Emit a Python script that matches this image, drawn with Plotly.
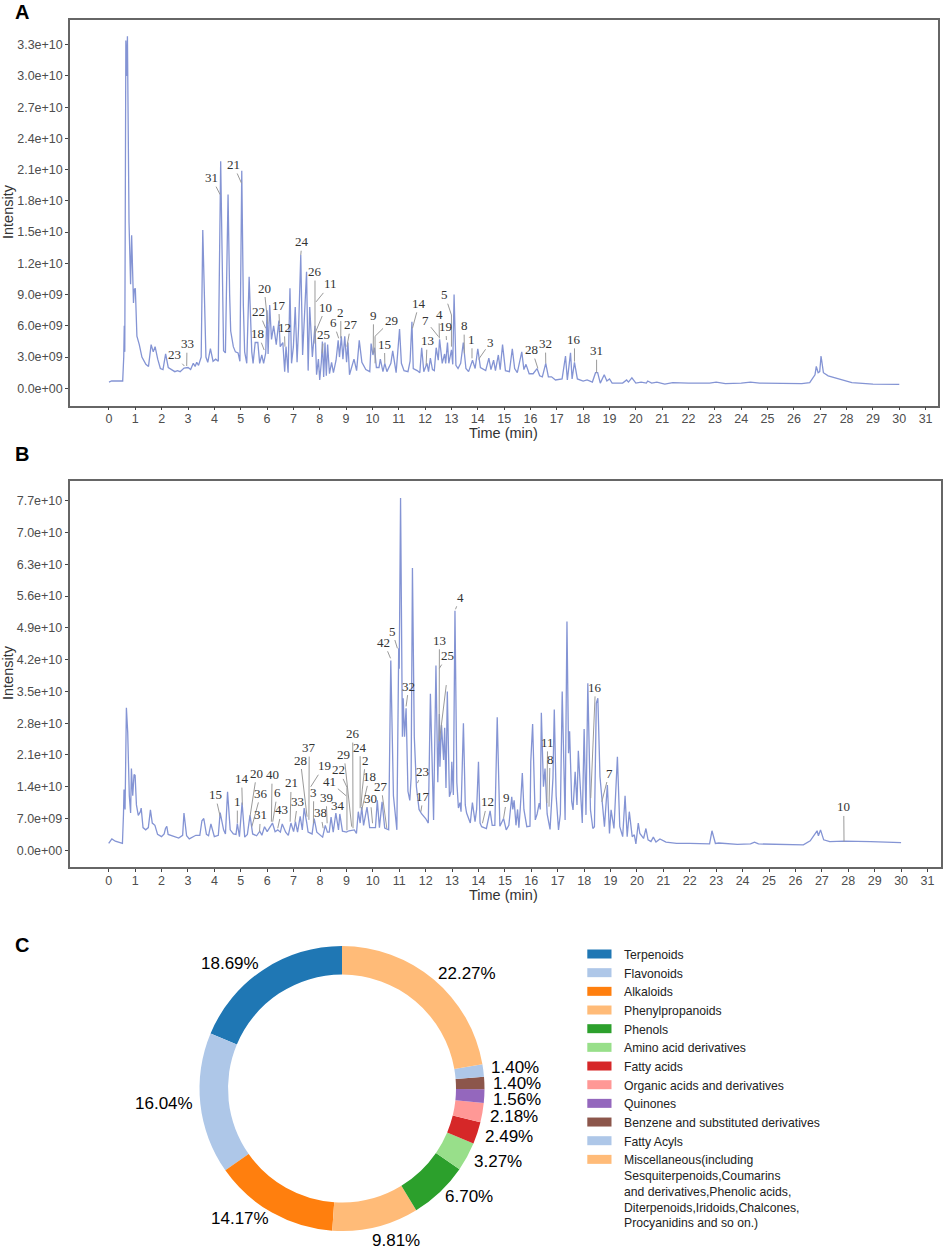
import plotly.graph_objects as go

W = 948
H = 1248
LINE_COLOR = "#8494d4"
LEADER_COLOR = "#9a9a9a"
AXIS_COLOR = "#666666"
TICK_TEXT = "#4d4d4d"

# intensities are in units of 1e9
A_TIME = [0, .1, .3, .52, .56, .58, .6, .64, .67, .7, .76, .82, .86, .9, .93, .96, 1.0, 1.06, 1.15, 1.25, 1.4, 1.5,
          1.6, 1.68, 1.75, 1.85, 1.95, 2.05, 2.15, 2.25, 2.4, 2.5, 2.6, 2.7, 2.85, 3.0, 3.1, 3.2, 3.27, 3.33, 3.4,
          3.5, 3.56, 3.63, 3.68, 3.75, 3.85, 3.95, 4.05, 4.15, 4.24, 4.3, 4.35, 4.42, 4.52, 4.58, 4.62, 4.72, 4.8,
          4.9, 4.97, 5.04, 5.1, 5.15, 5.23, 5.32, 5.42, 5.47, 5.55, 5.65, 5.72, 5.8, 5.87, 5.95, 6.0, 6.04, 6.1,
          6.17, 6.25, 6.35, 6.45, 6.5, 6.6, 6.67, 6.72, 6.8, 6.87, 6.93, 7.0, 7.07, 7.14, 7.2, 7.28, 7.35, 7.45,
          7.5, 7.56, 7.62, 7.72, 7.82, 7.88, 7.95, 8.0, 8.06, 8.1, 8.15, 8.2, 8.25, 8.3, 8.37, 8.45, 8.52, 8.62,
          8.7, 8.75, 8.82, 8.88, 8.95, 9.02, 9.07, 9.13, 9.3, 9.4, 9.5, 9.6, 9.75, 9.9, 9.95, 10.02, 10.08, 10.15,
          10.25, 10.3, 10.4, 10.47, 10.55, 10.7, 10.77, 10.9, 11.03, 11.1, 11.2, 11.35, 11.43, 11.5, 11.55, 11.7,
          11.8, 11.87, 11.95, 12.07, 12.13, 12.2, 12.28, 12.35, 12.42, 12.5, 12.55, 12.65, 12.74, 12.78, 12.85,
          12.9, 13.0, 13.05, 13.1, 13.17, 13.25, 13.35, 13.45, 13.55, 13.65, 13.8, 13.9, 14.0, 14.1, 14.3, 14.42,
          14.5, 14.6, 14.67, 14.78, 14.85, 14.94, 15.05, 15.2, 15.31, 15.4, 15.5, 15.67, 15.75, 15.83, 15.95, 16.1,
          16.25, 16.35, 16.45, 16.58, 16.68, 16.8, 16.95, 17.2, 17.33, 17.4, 17.52, 17.58, 17.67, 17.78, 18.0,
          18.15, 18.35, 18.47, 18.55, 18.65, 18.8, 18.9, 19.0, 19.1, 19.5, 19.65, 19.72, 19.85, 20.0, 20.2, 20.4,
          20.45, 20.6, 20.8, 21.1, 21.4, 22, 22.8, 23.05, 23.4, 24.0, 24.35, 24.7, 25.5, 26.3, 26.6, 26.8, 26.85,
          26.92, 26.98, 27.03, 27.12, 27.3, 27.7, 28.2, 29, 30]
A_INT = [.6, .7, .7, .7, 3.0, 6.0, 3.5, 33.4, 30, 33.8, 16, 10, 14.7, 11, 8.2, 9.5, 9.6, 5, 4.2, 3, 2.3, 2.1,
         4.2, 3.5, 4.0, 2.8, 1.9, 1.8, 3.3, 2.0, 1.8, 1.6, 1.7, 1.6, 1.95, 2.0, 1.8, 2.4, 2.1, 2.5, 2.2,
         3.0, 15.2, 7, 3, 2.5, 3.8, 2.6, 2.8, 2.6, 21.8, 12, 3.6, 3.4, 18.6, 9, 5.5, 4, 3.5,
         3.4, 2.6, 20.9, 8, 3.5, 2.4, 10.7, 3.5, 2.4, 4.4, 4.4, 2.4, 3.2, 2.4, 3.4, 7.5, 3.3, 8.0,
         4.7, 6.0, 4.2, 6.5, 4, 4.4, 1.6, 4, 1.5, 9.6, 2.4, 4, 7.8, 2.5, 6, 12.8, 3.2, 8.5,
         11.2, 1.7, 7.8, 3, 6, 1.3, 2.8, .8, 2.5, 4.5, 1.1, 4.4, 1.2, 4.2, 1.4, 2.5, 1.5, 2.7,
         4.6, 3, 5, 2.8, 5, 2.5, 4.4, 1.3, 2.8, 1.7, 4.6, 2.5, 1.8, 1.6, 4.3, 3.2, 3.9, 2,
         2, 2.8, 1.6, 2.4, 1.6, 2.4, 3.6, 1.5, 5.7, 2.4, 1.7, 1.6, 2.6, 6.4, 1.9, 1.7,
         1.5, 3.9, 1.6, 2.4, 1.6, 2.9, 1.8, 1.7, 3.9, 2.7, 4.7, 2.4, 3.3, 2.4, 4.4,
         2.4, 3.7, 2.3, 9.0, 2.2, 1.9, 2.4, 4.4, 1.9, 1.6, 2.7, 1.9, 3.8, 2, 1.7, 2.9,
         1.8, 2.7, 1.7, 3.2, 1.8, 4.2, 1.7, 1.6, 3.8, 1.9, 1.5, 3.5, 1.8, 2.3, 1.4, 1.4,
         1.9, 1.2, 1.1, 2.4, 1.1, 1.1, .8, .9, 3.1, .8, 3.4, .9, 2.5, .9, .7,
         .8, .6, 1.5, 1.5, .5, 1.3, .7, .9, .5, .5, .8, .6, 1.0, .5, .6, .5,
         .7, .5, .6, .4, .55, .5, .5, .6, .45, .5, .6, .5, .45, .45, .55, 1.3, 2.1,
         1.5, 1.6, 3.1, 1.5, 1.2, .9, .55, .4, .37]

B_TIME = [0, .12, .25, .45, .52, .56, .58, .62, .67, .72, .78, .83, .86, .91, .96, 1.0, 1.05, 1.12, 1.2, 1.23, 1.3,
          1.4, 1.5, 1.58, 1.65, 1.75, 1.85, 2.0, 2.1, 2.15, 2.2, 2.25, 2.5, 2.65, 2.8, 2.85, 2.95, 3.05, 3.3, 3.45,
          3.53, 3.6, 3.7, 3.78, 3.87, 4.0, 4.15, 4.22, 4.35, 4.42, 4.5, 4.6, 4.72, 4.82, 4.87, 4.95, 5.05, 5.15,
          5.25, 5.35, 5.45, 5.6, 5.72, 5.8, 5.9, 6, 6.2, 6.3, 6.4, 6.5, 6.57, 6.7, 6.8, 6.9, 7.0, 7.07, 7.15, 7.25,
          7.33, 7.4, 7.5, 7.55, 7.7, 7.78, 7.88, 8.0, 8.1, 8.2, 8.28, 8.35, 8.42, 8.5, 8.6, 8.7, 8.75, 8.85, 9, 9.1,
          9.3, 9.38, 9.45, 9.52, 9.58, 9.65, 9.78, 9.88, 10, 10.1, 10.17, 10.25, 10.35, 10.45, 10.6, 10.68, 10.78,
          10.87, 10.91, 10.98, 11.0, 11.05, 11.12, 11.15, 11.2, 11.26, 11.33, 11.4, 11.45, 11.5, 11.57, 11.65, 11.75,
          11.85, 12.0, 12.1, 12.18, 12.3, 12.39, 12.46, 12.52, 12.54, 12.6, 12.68, 12.72, 12.77, 12.82, 12.9, 12.96,
          12.99, 13.05, 13.11, 13.18, 13.24, 13.3, 13.34, 13.43, 13.5, 13.55, 13.69, 13.77, 13.87, 13.93, 14.0, 14.06,
          14.12, 14.3, 14.44, 14.52, 14.62, 14.71, 14.81, 14.95, 15.05, 15.15, 15.26, 15.3, 15.35, 15.42, 15.48, 15.53,
          15.58, 15.66, 15.72, 15.83, 15.95, 15.98, 16.05, 16.15, 16.22, 16.3, 16.34, 16.38, 16.46, 16.52, 16.6, 16.71,
          16.82, 16.87, 16.94, 17.03, 17.1, 17.17, 17.28, 17.35, 17.41, 17.45, 17.53, 17.58, 17.66, 17.73, 17.78,
          17.93, 18.0, 18.07, 18.14, 18.24, 18.33, 18.39, 18.46, 18.52, 18.6, 18.69, 18.77, 18.88, 18.96, 19.02, 19.13,
          19.26, 19.35, 19.46, 19.55, 19.63, 19.71, 19.82, 19.9, 19.96, 20.05, 20.11, 20.25, 20.34, 20.42, 20.53,
          20.62, 20.72, 20.87, 21.1, 21.5, 22, 22.53, 22.75, 22.84, 22.97, 23.1, 23.8, 24.3, 24.45, 24.6, 26.3, 26.56,
          26.82, 26.87, 26.95, 27.07, 27.3, 27.84, 28.5, 28.85, 30]
B_INT = [1.5, 2.5, 2, 1.6, 1.5, 8, 13.4, 9, 31.4, 26, 12, 8.2, 18, 12, 16.7, 16.5, 10, 7.7, 8.5, 9.3, 5,
         4.5, 5, 8.9, 6, 5.5, 3.5, 3, 3.6, 4.8, 5.3, 3.5, 3, 2.7, 3.3, 8.2, 3.2, 2.5, 3.3, 3.3,
         6.5, 7, 3.5, 3.2, 5.8, 3, 3.3, 8.3, 4.5, 3.6, 12.9, 4.5, 3.6, 3.5, 5.9, 3, 10.5, 2.9,
         3.5, 7.7, 3.6, 3.2, 4.2, 3.3, 5.2, 4.1, 6, 4.1, 4.5, 4, 5.8, 4, 3.3, 6, 4.1, 6.3, 4, 7.5,
         4.5, 9.3, 6, 4, 3.6, 7, 4, 3.5, 2.9, 5.5, 4, 4, 7.3, 4, 8.2, 4.5, 8, 4.2, 4, 4.3,
         4.5, 3.7, 8.5, 6, 9.5, 5.5, 9.5, 5, 5, 5, 11, 5, 10.7, 4.9, 4.5, 41.8, 12,
         5.5, 4.5, 44.5, 40, 77.6, 25, 33.5, 25, 31.3, 13, 11, 16, 62.2, 25, 14, 9,
         8, 7, 6, 34.5, 6.7, 40.7, 15, 30, 18.4, 27.6, 19.9, 27, 13.7, 35, 11.8, 13,
         19.5, 12.2, 52.8, 15, 9.3, 10.5, 8.5, 28, 10, 8.2, 6, 10.5, 6.3, 9, 19.5, 6,
         5.2, 4.8, 8.7, 5.5, 5.5, 29.3, 5.3, 7, 4.5, 5.5, 11.8, 9, 11, 5.5, 9, 5,
         9, 17, 9, 5.2, 5.3, 19.5, 27.8, 6.7, 8, 10.4, 9, 30.3, 14, 18, 8, 4.6,
         15.9, 31, 12, 4.5, 8, 35, 6.7, 50.4, 21.4, 26.2, 10.7, 8.9, 17.3, 10, 21.9,
         6, 26.7, 7.8, 36.8, 8.9, 4.8, 5.2, 32.4, 33.5, 16.2, 9.6, 5.2, 14.4, 3.7, 8.9, 4.8,
         20.6, 5.2, 3, 12, 3, 8.5, 3, 3.4, 1.4, 6, 3.7, 2.6, 4.8, 2.3, 1.9,
         2.9, 1.8, 2.5, 1.8, 1.5, 1.5, 1.4, 1.4, 4.3, 1.5, 1.6, 1.3, 1.4, 1.8, 1.4, 1.2, 2.1,
         4.3, 3.2, 4.5, 2.3, 1.9, 2, 2, 1.9, 1.7]

# peak labels: text, time, intensity
A_PEAKS = [("31", 4.22, 18.6), ("21", 5.03, 19.7), ("23", 2.86, 2.14), ("33", 2.95, 2.14), ("24", 7.28, 12.8),
           ("26", 7.82, 4.3), ("11", 7.86, 8.3), ("20", 6.03, 6.2), ("22", 5.95, 5.76), ("17", 6.47, 6.24),
           ("12", 6.68, 4.0), ("18", 5.89, 3.68), ("10", 7.82, 5.28), ("25", 8.09, 3.36), ("2", 8.8, 4.8),
           ("6", 8.72, 4.8), ("27", 9.03, 4.0), ("9", 10.03, 3.36), ("29", 10.1, 5.0), ("15", 10.47, 2.4),
           ("14", 11.52, 5.76), ("13", 12.04, 2.24), ("7", 12.51, 4.96), ("4", 12.54, 4.8), ("19", 12.81, 4.64),
           ("5", 13.0, 7.04), ("8", 13.49, 3.36), ("1", 13.78, 2.88), ("3", 14.03, 2.78), ("28", 16.28, 1.92),
           ("32", 16.58, 2.4), ("16", 17.67, 2.56), ("31", 18.51, 1.5)]
B_PEAKS = [("15", 4.22, 7.42), ("1", 4.87, 5.95), ("14", 5.06, 10.0), ("20", 5.35, 7.42), ("36", 5.42, 5.2),
           ("31", 5.71, 4.1), ("40", 6.16, 6.3), ("6", 6.21, 6.3), ("43", 6.4, 4.85), ("21", 6.87, 6.3),
           ("33", 7.05, 6.3), ("28", 7.51, 7.4), ("37", 7.58, 6.7), ("19", 7.65, 14.0), ("3", 7.75, 5.95),
           ("38", 8.12, 4.85), ("39", 8.27, 5.95), ("34", 8.64, 7.8), ("41", 8.99, 12.0), ("22", 9.02, 13.9),
           ("29", 9.2, 5.2), ("26", 9.25, 4.85), ("24", 9.52, 9.26), ("2", 9.6, 13.3), ("18", 9.58, 8.9),
           ("30", 9.99, 5.95), ("27", 10.53, 4.85), ("42", 10.67, 42.3), ("5", 10.93, 44.5), ("32", 11.26, 31.7),
           ("13", 12.51, 24.3), ("25", 12.52, 40.1), ("23", 11.69, 14.8), ("17", 11.82, 8.5), ("4", 13.13, 53.1),
           ("12", 14.15, 5.95), ("9", 14.95, 7.05), ("11", 16.59, 10.4), ("8", 16.67, 9.6), ("16", 18.25, 11.5),
           ("7", 18.67, 10.7), ("10", 27.84, 1.9)]

# label offset from the peak, in pixels
A_OFFSETS = [(-8.7, -17), (-8.3, -18.7), (-10, -11.3), (.3, -22.3), (1.3, -13.3), (0, -72), (14.7, -18), (-3.7, -35.7),
             (-7, -16.7), (-.7, -18.3), (-.7, -19.3), (-6.3, -16.3), (11, -26.3), (1.7, -18.7), (0, -26.3),
             (-5.3, -15.7), (4, -22), (.3, -38), (16, -15.7), (-.3, -19.3), (6.7, -25), (1, -24.3), (-12.7, -15.7),
             (-.3, -24), (-.7, -13), (-6.7, -20.3), (-.3, -27.7), (0, -19), (12, -17.3), (-6, -18.7), (-.3, -19.7),
             (0, -22.3), (0, -22)]
B_OFFSETS = [(-5, -22), (0, -21.7), (-.7, -26.3), (6.7, -43.3), (9, -33.3), (1, -16.7), (.7, -47), (4.7, -29),
             (4, -18.3), (1, -38.7), (2.7, -19.7), (-6.7, -56.7), (.3, -72.3), (13.3, -21), (.3, -31), (-2.7, -15.3),
             (-1, -26), (1.3, -9), (-16.3, -14), (-8, -17.3), (-7.7, -72.3), (-.3, -94.7), (0, -61), (3.3, -29.7),
             (7.7, -33), (-2.3, -25), (-5.7, -42), (-6.7, -16), (-5.3, -17.3), (2.7, -20.3), (.3, -99.7), (8, -12.7),
             (5, -12), (2.3, -15.3), (4.7, -12), (5, -21.3), (3.3, -20.3), (.7, -60.7), (1, -47.7), (4.7, -110.7),
             (7.3, -28.7), (-.3, -34.7)]

# second part of the bent leader lines: t0, y0, t1, y1
A_ELBOWS = [(10.1, 5.0, 10.1, 2.4), (13.0, 7.04, 13.0, 4.0)]
B_ELBOWS = [(9.02, 13.9, 9.02, 4.4), (12.78, 36.4, 12.52, 24.0), (9.6, 13.3, 9.55, 9.6)]

X_TICKS = list(range(0, 32))
A_YTICKS = [0, 3, 6, 9, 12, 15, 18, 21, 24, 27, 30, 33]
A_YLABELS = ["0.0e+00", "3.0e+09", "6.0e+09", "9.0e+09", "1.2e+10", "1.5e+10", "1.8e+10", "2.1e+10", "2.4e+10",
             "2.7e+10", "3.0e+10", "3.3e+10"]
B_YTICKS = [0, 7, 14, 21, 28, 35, 42, 49, 56, 63, 70, 77]
B_YLABELS = ["0.0e+00", "7.0e+09", "1.4e+10", "2.1e+10", "2.8e+10", "3.5e+10", "4.2e+10", "4.9e+10", "5.6e+10",
             "6.3e+10", "7.0e+10", "7.7e+10"]

PIE_LABELS = ["Terpenoids", "Flavonoids", "Alkaloids", "Phenylpropanoids", "Phenols", "Amino acid derivatives",
              "Fatty acids", "Organic acids and derivatives", "Quinones", "Benzene and substituted derivatives",
              "Fatty Acyls",
              "Miscellaneous(including<br>Sesquiterpenoids,Coumarins<br>and derivatives,Phenolic acids,<br>"
              "Diterpenoids,Iridoids,Chalcones,<br>Procyanidins and so on.)"]
PIE_VALUES = [18.69, 16.04, 14.17, 9.81, 6.70, 3.27, 2.49, 2.18, 1.56, 1.40, 1.40, 22.27]
PIE_COLORS = ["#1f77b4", "#aec7e8", "#ff7f0e", "#ffbb78", "#2ca02c", "#98df8a", "#d62728", "#ff9896", "#9467bd",
              "#8c564b", "#aec7e8", "#ffbb78"]
# where each percentage sits on the page
PIE_TEXT_POS = [(230, 963), (164, 1103), (240, 1218), (396, 1240), (469, 1196), (498, 1161), (509, 1136), (514, 1116),
                (517, 1099), (517, 1083), (515, 1067), (467, 973)]


def px_x(x):
    return x / W


def px_y(y):
    return 1 - y / H


def text_at(x, y, text, size, family="Liberation Sans", color="#000000", xanchor="center", yanchor="middle", **kw):
    return dict(xref="paper", yref="paper", x=px_x(x), y=px_y(y), text=text, showarrow=False,
                xanchor=xanchor, yanchor=yanchor,
                font=dict(family=family, size=size, color=color), **kw)


def axis_style():
    return dict(showline=True, mirror=True, linecolor=AXIS_COLOR, linewidth=1.5, showgrid=False, zeroline=False,
                ticks="outside", ticklen=3, tickcolor="#444444", tickwidth=1,
                tickfont=dict(family="Liberation Sans", size=12.5, color=TICK_TEXT))


def add_panel(fig, row, times, values, peaks, offsets, elbows, yticks, ylabels, box, xrange, yrange):
    x0, x1, y0, y1 = box
    xname = "xaxis" if row == 1 else "xaxis2"
    yname = "yaxis" if row == 1 else "yaxis2"
    xref = "x" if row == 1 else "x2"
    yref = "y" if row == 1 else "y2"

    fig.add_trace(go.Scatter(x=times, y=values, mode="lines", xaxis=xref, yaxis=yref, showlegend=False,
                             line=dict(color=LINE_COLOR, width=1.3)))

    fig.update_layout({
        xname: dict(axis_style(), domain=[px_x(x0), px_x(x1)], range=xrange, anchor=yref, ticklabelstandoff=-2,
                    tickmode="array", tickvals=X_TICKS, ticktext=[str(t) for t in X_TICKS]),
        yname: dict(axis_style(), domain=[px_y(y1), px_y(y0)], range=yrange, anchor=xref,
                    tickmode="array", tickvals=yticks, ticktext=ylabels),
    })

    for (label, t, v), (dx, dy) in zip(peaks, offsets):
        fig.add_annotation(x=t, y=v, xref=xref, yref=yref, text=label, showarrow=True, arrowhead=0,
                           arrowcolor=LEADER_COLOR, arrowwidth=1, ax=dx, ay=dy,
                           font=dict(family="Liberation Serif", size=13, color="#333333"))

    for t0, v0, t1, v1 in elbows:
        fig.add_shape(type="line", xref=xref, yref=yref, x0=t0, y0=v0, x1=t1, y1=v1,
                      line=dict(color=LEADER_COLOR, width=1))


fig = go.Figure()

add_panel(fig, 1, A_TIME, A_INT, A_PEAKS, A_OFFSETS, A_ELBOWS, A_YTICKS, A_YLABELS,
          (70, 938, 20, 405.6), [-1.48, 31.47], [-1.66, 35.37])
add_panel(fig, 2, B_TIME, B_INT, B_PEAKS, B_OFFSETS, B_ELBOWS, B_YTICKS, B_YLABELS,
          (69.5, 940.7, 481.3, 867.3), [-1.484, 31.5], [-3.75, 81.3])

# plotly swings the first slice to the far side of 12 o'clock when going counterclockwise
fig.add_trace(go.Pie(labels=PIE_LABELS, values=PIE_VALUES, hole=0.8, sort=False, direction="counterclockwise",
                     rotation=-360 * PIE_VALUES[0] / sum(PIE_VALUES), textinfo="none", showlegend=False,
                     marker=dict(colors=PIE_COLORS, line=dict(width=0)),
                     domain=dict(x=[px_x(342 - 142.5), px_x(342 + 142.5)],
                                 y=[px_y(1088.5 + 142.5), px_y(1088.5 - 142.5)])))

for value, (x, y) in zip(PIE_VALUES, PIE_TEXT_POS):
    fig.add_annotation(text_at(x, y, f"{value:.2f}%", 17))

# legend for the donut
for i, (label, color) in enumerate(zip(PIE_LABELS, PIE_COLORS)):
    row_y = 954 + i * 18.67
    fig.add_shape(type="rect", xref="paper", yref="paper", x0=px_x(587.3), x1=px_x(611.5),
                  y0=px_y(row_y - 4.5), y1=px_y(row_y + 4.5), fillcolor=color, line=dict(width=0))
    fig.add_annotation(text_at(621.8, row_y - 8, label, 12.2, color="#222222", xanchor="left", yanchor="top",
                               align="left"))

fig.add_annotation(text_at(22, 12, "<b>A</b>", 20))
fig.add_annotation(text_at(22, 454, "<b>B</b>", 20))
fig.add_annotation(text_at(22, 945, "<b>C</b>", 20))
fig.add_annotation(text_at(504, 433, "Time (min)", 14.5, color="#333333"))
fig.add_annotation(text_at(504, 895, "Time (min)", 14.5, color="#333333"))
fig.add_annotation(text_at(8, 212, "Intensity", 14.5, color="#333333", textangle=-90))
fig.add_annotation(text_at(8, 673, "Intensity", 14.5, color="#333333", textangle=-90))

fig.update_layout(width=W, height=H, autosize=False, margin=dict(l=0, r=0, t=0, b=0),
                  paper_bgcolor="white", plot_bgcolor="white", showlegend=False)

fig.write_html("out.html", post_script="document.body.style.margin='0';", config={"displayModeBar": False})
